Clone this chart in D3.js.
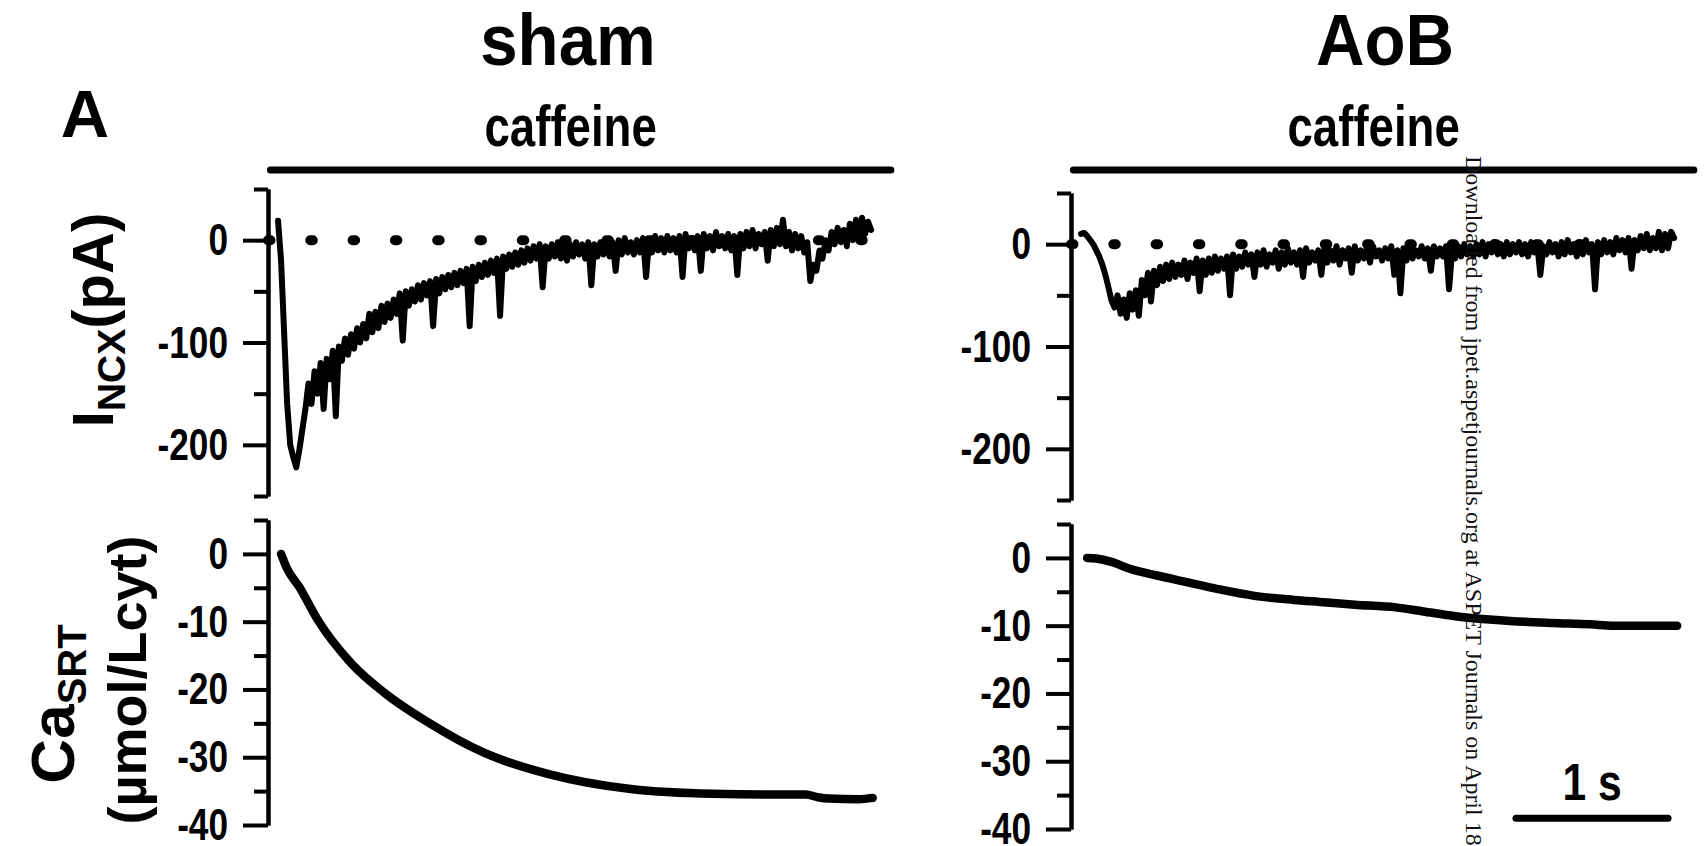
<!DOCTYPE html>
<html><head><meta charset="utf-8">
<script src="https://cdn.jsdelivr.net/npm/d3@7"></script>
<style>body{margin:0;background:#fff}svg{display:block}</style>
</head><body><svg id="c" width="1707" height="846"></svg>
<script>
// ---------------- data ----------------
const titles = ["sham", "AoB"];
const stimLabel = "caffeine";
const caffeineOn = [-0.05, 4.03];            // s
const dt = 0.02;                              // s between samples of current traces
const shamINCX = [
  19,-20,-90,-160,-200,-212,-222,-205,-185,-165,
  -140,-160,-128,-150,-120,-165,-116,-136,-108,-172,
  -104,-118,-96,-112,-92,-106,-86,-100,-82,-96,
  -72,-90,-70,-86,-64,-80,-62,-76,-58,-72,
  -52,-98,-50,-64,-48,-60,-44,-58,-42,-54,
  -40,-84,-38,-52,-36,-48,-34,-46,-32,-44,
  -30,-42,-28,-84,-26,-40,-24,-36,-22,-34,
  -20,-32,-18,-74,-16,-28,-14,-26,-12,-24,
  -10,-22,-8,-20,-6,-18,-4,-46,-6,-18,
  -4,-16,-2,-18,-6,-20,-4,-16,-2,-14,
  -4,-18,-2,-44,-4,-16,-2,-14,0,-16,
  -2,-30,0,-14,2,-12,-2,-14,0,-12,
  2,-36,0,-12,4,-10,2,-12,4,-10,
  2,-12,4,-36,6,-8,2,-10,4,-30,
  6,-8,4,-10,8,-6,4,-8,6,-10,
  4,-34,6,-8,8,-6,10,-8,6,-4,
  8,-20,10,-6,12,-4,20,-6,8,-10,
  6,-8,4,-12,-2,-40,-24,-30,-10,-18,
  0,-10,8,-4,12,-2,10,-6,16,0,
  20,2,22,6,18,10];
const aobINCX = [
  10,11,8,4,0,-6,-12,-20,-30,-42,
  -55,-62,-50,-68,-54,-72,-48,-64,-45,-70,
  -35,-50,-28,-56,-26,-40,-22,-36,-20,-34,
  -18,-32,-20,-30,-16,-34,-18,-28,-14,-46,
  -16,-30,-14,-28,-12,-26,-14,-24,-12,-50,
  -10,-24,-12,-22,-8,-20,-10,-32,-8,-20,
  -6,-22,-10,-18,-6,-24,-8,-20,-4,-18,
  -8,-20,-6,-32,-4,-18,-8,-16,-6,-30,
  -4,-18,-6,-16,-2,-20,-6,-14,-4,-28,
  -2,-16,-6,-14,-4,-18,-2,-12,-6,-16,
  -4,-14,-2,-30,-6,-48,-4,-16,-2,-14,
  -6,-12,-2,-14,-4,-26,-2,-12,-4,-12,
  -2,-44,-6,-14,-2,-12,0,-10,-2,-12,
  0,-10,2,-12,0,-8,2,-10,0,-12,
  2,-10,0,-8,2,-10,0,-12,2,-8,
  0,-30,-2,-10,2,-8,0,-12,2,-10,
  4,-8,0,-12,2,-10,4,-8,0,-44,
  2,-10,4,-8,2,-10,6,-6,4,-8,
  6,-24,4,-6,8,-4,10,-6,6,-4,
  12,-6,10,-4,12,6];
const shamCaT = [0.02,0.06,0.14,0.26,0.48,0.70,0.99,1.35,1.78,2.32,2.86,3.30,3.47,3.55,3.62,3.82,3.91];
const shamCa  = [0,-2.2,-4.9,-9.7,-16.1,-20.5,-24.9,-29.3,-32.5,-34.7,-35.4,-35.5,-35.5,-35.9,-36.1,-36.2,-36.0];
const aobCaT = [0.04,0.10,0.20,0.32,0.50,0.68,0.90,1.14,1.40,1.57,1.80,2.07,2.25,2.46,2.82,3.10,3.35,3.50,3.92];
const aobCa  = [0,-0.1,-0.6,-1.6,-2.6,-3.5,-4.6,-5.6,-6.2,-6.5,-6.9,-7.3,-7.9,-8.6,-9.3,-9.6,-9.8,-10.0,-10.0];
const incxTicks = [0, -100, -200];
const incxMinor = [50, -50, -150, -250];
const caTicks = [0, -10, -20, -30, -40];
const caMinor = [5, -5, -15, -25, -35];
const scaleBarSec = 1;
const watermark = "Downloaded from jpet.aspetjournals.org at ASPET Journals on April 18, 2024";

// ---------------- drawing ----------------
const FONT = "'Liberation Sans', Arial, Helvetica, sans-serif";
const svg = d3.select("#c").attr("font-family", FONT);
const timeDomain = [-0.066, 4.07];

// horizontally condense a text to a fraction of its natural length
function squeeze(sel, f) {
  sel.each(function () {
    const L = this.getComputedTextLength();
    d3.select(this).attr("textLength", L * f).attr("lengthAdjust", "spacingAndGlyphs");
  });
  return sel;
}

const panels = [
  {name: titles[0], current: shamINCX, caT: shamCaT, ca: shamCa, axisX: 268, dy: 0, titleX: 568},
  {name: titles[1], current: aobINCX, caT: aobCaT, ca: aobCa, axisX: 1071, dy: 4, titleX: 1385}
];

function styleAxis(g) {
  g.select(".domain").attr("stroke", "#000").attr("stroke-width", 4);
  g.selectAll(".tick line").attr("stroke", "#000").attr("stroke-width", 4);
  const t = g.selectAll(".tick text").attr("fill", "#000").attr("font-size", 44).attr("font-weight", "bold")
    .attr("font-family", FONT).attr("dy", "0.33em");
  squeeze(t, 0.8);
}

let xRight;
panels.forEach((p, pi) => {
  const x = d3.scaleLinear().domain(timeDomain).range([p.axisX, p.axisX + 629]);
  const yI = d3.scaleLinear().domain([-250, 50]).range([496 + p.dy, 189 + p.dy]);
  const yC = d3.scaleLinear().domain([-40, 5]).range([825 + p.dy, 520 + p.dy]);
  if (pi === 1) xRight = {x, yC};

  squeeze(svg.append("text").attr("x", p.titleX).attr("y", 65).attr("text-anchor", "middle")
    .attr("font-size", 73).attr("font-weight", "bold").text(p.name), 0.92);
  const cx = (x(caffeineOn[0]) + x(caffeineOn[1])) / 2;
  squeeze(svg.append("text").attr("x", cx - 10).attr("y", 146).attr("text-anchor", "middle")
    .attr("font-size", 57).attr("font-weight", "bold").text(stimLabel), 0.8);
  svg.append("line").attr("x1", x(caffeineOn[0])).attr("x2", x(caffeineOn[1]))
    .attr("y1", 170).attr("y2", 170).attr("stroke", "#000").attr("stroke-width", 7)
    .attr("stroke-linecap", "round");

  // axes (minor ticks unlabeled, major ticks labeled)
  const gIm = svg.append("g").attr("transform", `translate(${p.axisX},0)`)
    .call(d3.axisLeft(yI).tickValues(incxMinor).tickSize(14).tickFormat("").tickSizeOuter(0));
  styleAxis(gIm);
  const gI = svg.append("g").attr("transform", `translate(${p.axisX},0)`)
    .call(d3.axisLeft(yI).tickValues(incxTicks).tickSize(25).tickPadding(15).tickFormat(d => String(d)).tickSizeOuter(0));
  styleAxis(gI);
  const gCm = svg.append("g").attr("transform", `translate(${p.axisX},0)`)
    .call(d3.axisLeft(yC).tickValues(caMinor).tickSize(14).tickFormat("").tickSizeOuter(0));
  styleAxis(gCm);
  const gC = svg.append("g").attr("transform", `translate(${p.axisX},0)`)
    .call(d3.axisLeft(yC).tickValues(caTicks).tickSize(25).tickPadding(15).tickFormat(d => String(d)).tickSizeOuter(0));
  styleAxis(gC);

  // zero dotted line
  svg.append("line").attr("x1", x(timeDomain[0])).attr("x2", x(timeDomain[1]))
    .attr("y1", yI(0)).attr("y2", yI(0)).attr("stroke", "#000").attr("stroke-width", 10)
    .attr("stroke-linecap", "round").attr("stroke-dasharray", "2.5 39.8");

  // current trace
  svg.append("path").datum(p.current)
    .attr("d", d3.line().x((d, i) => x(i * dt)).y(d => yI(d)))
    .attr("fill", "none").attr("stroke", "#000").attr("stroke-width", 6)
    .attr("stroke-linejoin", "round").attr("stroke-linecap", "round");

  // Ca trace
  svg.append("path").datum(p.ca)
    .attr("d", d3.line().x((d, i) => x(p.caT[i])).y(d => yC(d)).curve(d3.curveMonotoneX))
    .attr("fill", "none").attr("stroke", "#000").attr("stroke-width", 8.5)
    .attr("stroke-linejoin", "round").attr("stroke-linecap", "round");
});

// panel letter
svg.append("text").attr("x", 85).attr("y", 137).attr("text-anchor", "middle")
  .attr("font-size", 67).attr("font-weight", "bold").text("A");

// y-axis titles
const t1 = svg.append("text").attr("transform", "translate(113,320) rotate(-90)")
  .attr("text-anchor", "middle").attr("font-size", 58).attr("font-weight", "bold");
t1.append("tspan").text("I");
t1.append("tspan").attr("font-size", 39).attr("dy", 12).text("NCX");
t1.append("tspan").attr("dy", -12).text("(pA)");

const t2 = svg.append("text").attr("transform", "translate(74,704) rotate(-90)")
  .attr("text-anchor", "middle").attr("font-size", 62).attr("font-weight", "bold");
t2.append("tspan").text("Ca");
t2.append("tspan").attr("font-size", 40).attr("dy", 12).text("SRT");
svg.append("text").attr("transform", "translate(146,680) rotate(-90)")
  .attr("text-anchor", "middle").attr("font-size", 54).attr("font-weight", "bold").text("(\u00b5mol/Lcyt)");

// scale bar
const sb0 = 2.86;
svg.append("line").attr("x1", xRight.x(sb0)).attr("x2", xRight.x(sb0 + scaleBarSec))
  .attr("y1", xRight.yC(-38.4)).attr("y2", xRight.yC(-38.4))
  .attr("stroke", "#000").attr("stroke-width", 7).attr("stroke-linecap", "round");
squeeze(svg.append("text").attr("x", (xRight.x(sb0) + xRight.x(sb0 + scaleBarSec)) / 2).attr("y", 800)
  .attr("text-anchor", "middle").attr("font-size", 52).attr("font-weight", "bold").text(scaleBarSec + " s"), 0.82);

// watermark
svg.append("text").attr("transform", "translate(1466,156) rotate(90)")
  .attr("font-family", "'Liberation Serif', 'Times New Roman', serif").attr("font-size", 24)
  .attr("fill", "#111").text(watermark);
</script></body></html>
